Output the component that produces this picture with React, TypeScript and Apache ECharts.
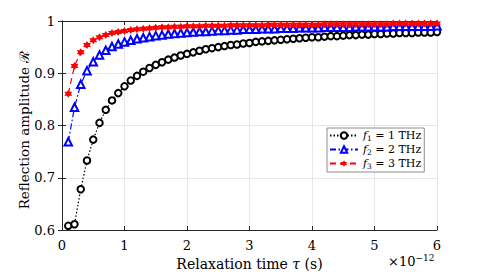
import React, { useEffect, useRef } from "react";
import * as echarts from "echarts";

const tau = [0.1,0.2,0.3,0.4,0.5,0.6,0.7,0.8,0.9,1.0,1.1,1.2,1.3,1.4,1.5,1.6,1.7,1.8,1.9,2.0,2.1,2.2,2.3,2.4,2.5,2.6,2.7,2.8,2.9,3.0,3.1,3.2,3.3,3.4,3.5,3.6,3.7,3.8,3.9,4.0,4.1,4.2,4.3,4.4,4.5,4.6,4.7,4.8,4.9,5.0,5.1,5.2,5.3,5.4,5.5,5.6,5.7,5.8,5.9,6.0];

const f1 = [0.608,0.611,0.678,0.733,0.773,0.805,0.830,0.848,0.862,0.875,0.886,0.895,0.903,0.910,0.916,0.921,0.926,0.930,0.934,0.937,0.940,0.943,0.946,0.948,0.950,0.952,0.954,0.955,0.957,0.958,0.960,0.961,0.962,0.963,0.964,0.965,0.966,0.967,0.968,0.969,0.969,0.970,0.971,0.971,0.972,0.973,0.973,0.974,0.974,0.975,0.975,0.976,0.976,0.977,0.977,0.977,0.978,0.978,0.978,0.979];

const f2 = [0.769,0.835,0.879,0.905,0.922,0.935,0.944,0.951,0.956,0.960,0.963,0.966,0.968,0.970,0.972,0.973,0.975,0.976,0.977,0.978,0.979,0.980,0.980,0.981,0.982,0.982,0.983,0.983,0.984,0.984,0.984,0.985,0.985,0.985,0.986,0.986,0.986,0.987,0.987,0.987,0.987,0.988,0.988,0.988,0.988,0.988,0.989,0.989,0.989,0.989,0.989,0.989,0.990,0.990,0.990,0.990,0.990,0.990,0.990,0.991];

const f3 = [0.861,0.914,0.940,0.954,0.963,0.969,0.973,0.977,0.979,0.981,0.983,0.984,0.985,0.986,0.987,0.988,0.988,0.989,0.989,0.990,0.990,0.990,0.991,0.991,0.991,0.991,0.992,0.992,0.992,0.992,0.992,0.992,0.993,0.993,0.993,0.993,0.993,0.993,0.993,0.993,0.993,0.994,0.994,0.994,0.994,0.994,0.994,0.994,0.994,0.994,0.994,0.994,0.995,0.995,0.995,0.995,0.995,0.995,0.995,0.995];

const seriesNames = ["f1", "f2", "f3"];
const legendLabels = ["{i|f}{s|1}{n| = 1 THz}", "{i|f}{s|2}{n| = 2 THz}", "{i|f}{s|3}{n| = 3 THz}"];
const xTicks = [0, 1, 2, 3, 4, 5, 6];
const yTicks = [0.6, 0.7, 0.8, 0.9, 1];

const FONT = "DejaVu Serif";
const AX = "#262626";

export default function App() {
  const ref = useRef<HTMLDivElement>(null);
  useEffect(() => {
    if (!ref.current) return;
    const chart = echarts.init(ref.current, undefined, { renderer: "svg" });
    const pair = (ys: number[]) => tau.map((t, i) => [t, ys[i]]);
    const axisCommon = {
      type: "value" as const,
      axisLine: { show: true, lineStyle: { color: AX, width: 1 } },
      axisTick: { show: true, inside: true, length: 4, lineStyle: { color: AX } },
    };
    const star = "path://M0,-10 L2.9,-5 L8.7,-5 L5.8,0 L8.7,5 L2.9,5 L0,10 L-2.9,5 L-8.7,5 L-5.8,0 L-8.7,-5 L-2.9,-5 Z";
    const rich = {
      i: { fontFamily: FONT, fontStyle: "italic", fontSize: 11, color: "#000" },
      s: { fontFamily: FONT, fontSize: 7.5, color: "#000", padding: [5, 0, 0, 0] },
      n: { fontFamily: FONT, fontSize: 11, color: "#000" },
    };
    chart.setOption({
      animation: false,
      backgroundColor: "#fff",
      textStyle: { fontFamily: FONT },
      grid: { left: 62, right: 45, top: 21, bottom: 46, containLabel: false },
      xAxis: [
        {
          ...axisCommon,
          min: 0, max: 6, interval: 1,
          position: "bottom",
          axisLabel: { color: "#000", fontFamily: FONT, fontSize: 13, margin: 9, formatter: (v: number) => (xTicks.includes(v) ? String(v) : "") },
          splitLine: { show: true, lineStyle: { color: "#e6e6e6", width: 1 } },
          name: "Relaxation time {i|τ} (s)",
          nameLocation: "middle",
          nameGap: 27,
          nameTextStyle: {
            color: "#000", fontFamily: FONT, fontSize: 14,
            rich: { i: { fontFamily: FONT, fontStyle: "italic", fontSize: 14, color: "#000" } },
          },
        },
        {
          ...axisCommon,
          min: 0, max: 6, interval: 1,
          position: "top",
          axisLabel: { show: false },
          splitLine: { show: false },
        },
      ],
      yAxis: [
        {
          ...axisCommon,
          min: 0.6, max: 1, interval: 0.1,
          position: "left",
          axisLabel: { color: "#000", fontFamily: FONT, fontSize: 13, margin: 7, formatter: (v: number) => { const r = Math.round(v * 10) / 10; return yTicks.includes(r) ? String(r) : ""; } },
          splitLine: { show: true, lineStyle: { color: "#e6e6e6", width: 1 } },
        },
        {
          ...axisCommon,
          min: 0.6, max: 1, interval: 0.1,
          position: "right",
          axisLabel: { show: false },
          splitLine: { show: false },
        },
      ],
      legend: {
        orient: "vertical",
        left: 327,
        top: 128,
        data: seriesNames,
        itemWidth: 28,
        itemHeight: 8,
        itemGap: 2,
        padding: [2, 3, 2, 2],
        borderColor: "#8c8c8c",
        borderWidth: 1,
        backgroundColor: "#fff",
        formatter: (name: string) => legendLabels[seriesNames.indexOf(name)],
        textStyle: { fontFamily: FONT, fontSize: 11, color: "#000", rich },
      },
      series: [
        {
          name: "f1", type: "line", data: pair(f1),
          symbol: "emptyCircle", symbolSize: 6.5,
          lineStyle: { color: "#000", width: 1.2, type: [1.5, 2] },
          itemStyle: { color: "#000", borderWidth: 1.6 },
        },
        {
          name: "f2", type: "line", data: pair(f2),
          symbol: "emptyTriangle", symbolSize: 7.5,
          lineStyle: { color: "#0000ff", width: 1.2, type: [6, 2.5, 1.5, 2.5] },
          itemStyle: { color: "#0000ff", borderWidth: 1.6 },
        },
        {
          name: "f3", type: "line", data: pair(f3),
          symbol: star, symbolSize: 8,
          lineStyle: { color: "#ff0000", width: 1.2, type: [6, 4] },
          itemStyle: { color: "#ff0000" },
        },
      ],
      graphic: [
        {
          type: "text",
          left: 388,
          top: 253,
          style: {
            text: "×10{sup|−12}",
            fontFamily: FONT, fontSize: 13, fill: "#000",
            rich: { sup: { fontFamily: FONT, fontSize: 9, padding: [0, 0, 8, 0], fill: "#000" } },
          },
        },
        {
          type: "text",
          x: 24,
          y: 130,
          rotation: Math.PI / 2,
          style: {
            text: "Reflection amplitude ℛ",
            fontFamily: FONT, fontSize: 13.5, fill: "#000",
            align: "center", verticalAlign: "middle",
          },
        },
      ],
    });
    return () => chart.dispose();
  }, []);
  return <div ref={ref} style={{ width: 482, height: 276, position: "absolute", left: 0, top: 0 }} />;
}
